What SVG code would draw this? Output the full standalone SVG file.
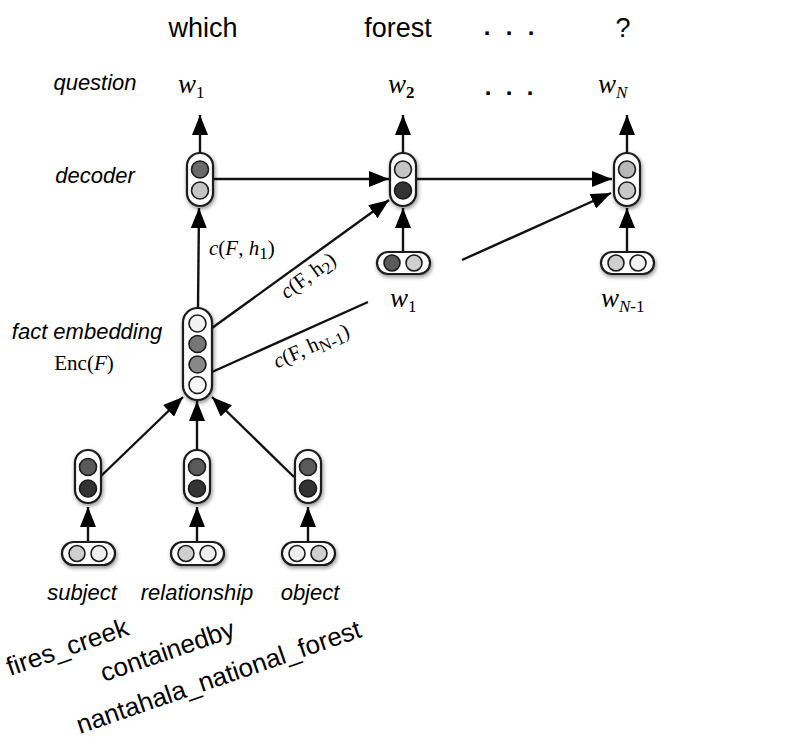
<svg xmlns="http://www.w3.org/2000/svg" width="800" height="753" viewBox="0 0 800 753">
<defs>
<style>
.lbl{font-family:"Liberation Sans",Arial,sans-serif;font-size:27px;fill:#000}
.it{font-family:"Liberation Sans",Arial,sans-serif;font-style:italic;font-size:22px;fill:#000}
.rot{font-family:"Liberation Sans",Arial,sans-serif;font-size:26px;fill:#000}
.m{font-family:"Liberation Serif","Times New Roman",serif;font-size:27px;fill:#000}
.ms{font-family:"Liberation Serif","Times New Roman",serif;font-size:21px;fill:#000}
.mi{font-style:italic}
.sub{font-size:17px;font-style:normal}
.subi{font-size:17px;font-style:italic}
.cap{fill:#fff;stroke:#1a1a1a;stroke-width:2.2}
.c{stroke:#1a1a1a;stroke-width:1.6}
.edge{stroke:#111;stroke-width:2.4;fill:none}
.dots{font-family:"Liberation Sans",Arial,sans-serif;font-weight:bold;font-size:24px;fill:#000}
</style>
<marker id="ah" markerUnits="userSpaceOnUse" markerWidth="20" markerHeight="16" refX="20" refY="8" orient="auto">
<path d="M0,0 L20,8 L0,16 z" fill="#000"/>
</marker>
<filter id="sh" x="-40%" y="-40%" width="180%" height="180%">
<feGaussianBlur in="SourceAlpha" stdDeviation="2"/>
<feOffset dx="1" dy="2" result="b"/>
<feComponentTransfer><feFuncA type="linear" slope="0.45"/></feComponentTransfer>
<feMerge><feMergeNode/><feMergeNode in="SourceGraphic"/></feMerge>
</filter>
</defs>
<rect width="800" height="753" fill="#fff"/>

<!-- top words -->
<g id="words">
<text class="lbl" x="203" y="37" text-anchor="middle">which</text>
<text class="lbl" x="398" y="37" text-anchor="middle">forest</text>
<text class="dots" x="487 509 531" y="35" text-anchor="middle">...</text>
<text class="lbl" x="623" y="37" text-anchor="middle">?</text>
</g>

<!-- row labels -->
<g id="rowlabels">
<text class="it" x="95" y="90" text-anchor="middle">question</text>
<text class="it" x="95" y="183" text-anchor="middle">decoder</text>
<text class="it" x="87" y="339" text-anchor="middle">fact embedding</text>
<text class="ms" x="84" y="370" text-anchor="middle" font-size="22">Enc(<tspan class="mi">F</tspan>)</text>
</g>

<!-- output words -->
<g id="outputs">
<text class="m mi" x="178" y="93">w<tspan class="sub" dy="5">1</tspan></text>
<text class="m mi" x="388" y="93">w<tspan class="sub" dy="5" font-weight="bold">2</tspan></text>
<text class="dots" x="488 509 530" y="95" text-anchor="middle">...</text>
<text class="m mi" x="598" y="93">w<tspan class="subi" dy="5">N</tspan></text>
</g>

<!-- connectors -->
<g id="connectors">
<line class="edge" x1="200" y1="153" x2="200" y2="115" marker-end="url(#ah)"/>
<line class="edge" x1="403" y1="153" x2="403" y2="115" marker-end="url(#ah)"/>
<line class="edge" x1="627" y1="153" x2="627" y2="115" marker-end="url(#ah)"/>
<line class="edge" x1="213" y1="179" x2="389" y2="179" marker-end="url(#ah)"/>
<line class="edge" x1="417" y1="179" x2="612" y2="179" marker-end="url(#ah)"/>
<line class="edge" x1="403" y1="252" x2="403" y2="208" marker-end="url(#ah)"/>
<line class="edge" x1="627" y1="252" x2="627" y2="208" marker-end="url(#ah)"/>
<line class="edge" x1="198" y1="308" x2="199" y2="208" marker-end="url(#ah)"/>
<line class="edge" x1="212" y1="328" x2="389" y2="200" marker-end="url(#ah)"/>
<path class="edge" d="M212,372 L368,302 M462,260 L611,193" marker-end="url(#ah)"/>
<line class="edge" x1="100" y1="477" x2="183" y2="397" marker-end="url(#ah)"/>
<line class="edge" x1="197" y1="450" x2="197" y2="401" marker-end="url(#ah)"/>
<line class="edge" x1="294" y1="477" x2="212" y2="397" marker-end="url(#ah)"/>
<line class="edge" x1="88" y1="542" x2="88" y2="507" marker-end="url(#ah)"/>
<line class="edge" x1="197" y1="542" x2="197" y2="507" marker-end="url(#ah)"/>
<line class="edge" x1="308" y1="542" x2="308" y2="507" marker-end="url(#ah)"/>
</g>

<!-- connector labels -->
<g id="edgelabels">
<text class="ms" x="209" y="255"><tspan class="mi">c</tspan>(<tspan class="mi">F</tspan>, <tspan class="mi">h</tspan><tspan class="sub" dy="4">1</tspan><tspan dy="-4">)</tspan></text>
<text class="ms" transform="translate(312,281) rotate(-36)" text-anchor="middle"><tspan class="mi">c</tspan>(F, h<tspan class="sub" dy="4">2</tspan><tspan dy="-4">)</tspan></text>
<text class="ms" transform="translate(314,352) rotate(-24)" text-anchor="middle"><tspan class="mi">c</tspan>(F, h<tspan class="sub" dy="4">N-1</tspan><tspan dy="-4">)</tspan></text>
</g>

<!-- decoder nodes -->
<g id="dec1">
<rect class="cap" x="187" y="153" width="26" height="53" rx="13" filter="url(#sh)"/>
<circle class="c" cx="200" cy="169.5" r="8.5" fill="#6a6a6a"/>
<circle class="c" cx="200" cy="190.5" r="8.5" fill="#c4c4c4"/>
</g>
<g id="dec2">
<rect class="cap" x="390" y="153" width="26" height="53" rx="13" filter="url(#sh)"/>
<circle class="c" cx="403" cy="169.5" r="8.5" fill="#c4c4c4"/>
<circle class="c" cx="403" cy="190.5" r="8.5" fill="#333"/>
</g>
<g id="dec3">
<rect class="cap" x="614" y="153" width="26" height="53" rx="13" filter="url(#sh)"/>
<circle class="c" cx="627" cy="169.5" r="8.5" fill="#b8b8b8"/>
<circle class="c" cx="627" cy="190.5" r="8.5" fill="#c8c8c8"/>
</g>

<!-- decoder inputs -->
<g id="in1">
<rect class="cap" x="377" y="252" width="53" height="22" rx="11" filter="url(#sh)"/>
<circle class="c" cx="392" cy="263" r="8" fill="#5a5a5a"/>
<circle class="c" cx="414" cy="263" r="8" fill="#cfcfcf"/>
<text class="m mi" x="390" y="307">w<tspan class="sub" dy="5">1</tspan></text>
</g>
<g id="inN">
<rect class="cap" x="601" y="252" width="53" height="22" rx="11" filter="url(#sh)"/>
<circle class="c" cx="616" cy="263" r="8" fill="#cfcfcf"/>
<circle class="c" cx="638" cy="263" r="8" fill="#f0f0f0"/>
<text class="m mi" x="601" y="307">w<tspan class="subi" dy="5">N</tspan><tspan class="sub">-1</tspan></text>
</g>

<!-- fact embedding -->
<g id="fact">
<rect class="cap" x="183" y="308" width="29" height="92" rx="14.5" filter="url(#sh)"/>
<circle class="c" cx="197.5" cy="323.5" r="8.5" fill="#f2f2f2"/>
<circle class="c" cx="197.5" cy="344" r="8.5" fill="#777"/>
<circle class="c" cx="197.5" cy="364.5" r="8.5" fill="#888"/>
<circle class="c" cx="197.5" cy="385" r="8.5" fill="#f6f6f6"/>
</g>

<!-- triple nodes -->
<g id="subj">
<rect class="cap" x="75" y="450" width="26" height="53" rx="13" filter="url(#sh)"/>
<circle class="c" cx="88" cy="467" r="8.5" fill="#5a5a5a"/>
<circle class="c" cx="88" cy="488.5" r="8.5" fill="#333"/>
</g>
<g id="rel">
<rect class="cap" x="184" y="450" width="26" height="53" rx="13" filter="url(#sh)"/>
<circle class="c" cx="197" cy="467" r="8.5" fill="#5a5a5a"/>
<circle class="c" cx="197" cy="488.5" r="8.5" fill="#333"/>
</g>
<g id="obj">
<rect class="cap" x="295" y="450" width="26" height="53" rx="13" filter="url(#sh)"/>
<circle class="c" cx="308" cy="467" r="8.5" fill="#5a5a5a"/>
<circle class="c" cx="308" cy="488.5" r="8.5" fill="#333"/>
</g>

<g id="subjin">
<rect class="cap" x="62" y="542" width="53" height="23" rx="11.5" filter="url(#sh)"/>
<circle class="c" cx="77" cy="553.5" r="8" fill="#cfcfcf"/>
<circle class="c" cx="99" cy="553.5" r="8" fill="#eee"/>
</g>
<g id="relin">
<rect class="cap" x="171" y="542" width="53" height="23" rx="11.5" filter="url(#sh)"/>
<circle class="c" cx="186" cy="553.5" r="8" fill="#cfcfcf"/>
<circle class="c" cx="208" cy="553.5" r="8" fill="#eee"/>
</g>
<g id="objin">
<rect class="cap" x="282" y="542" width="53" height="23" rx="11.5" filter="url(#sh)"/>
<circle class="c" cx="297" cy="553.5" r="8" fill="#eee"/>
<circle class="c" cx="319" cy="553.5" r="8" fill="#cfcfcf"/>
</g>

<g id="triplelabels">
<text class="it" x="82" y="600" text-anchor="middle">subject</text>
<text class="it" x="197" y="600" text-anchor="middle">relationship</text>
<text class="it" x="310" y="600" text-anchor="middle">object</text>
<text class="rot" transform="translate(10,676) rotate(-19)">fires_creek</text>
<text class="rot" transform="translate(104,682) rotate(-19)">containedby</text>
<text class="rot" transform="translate(80,734) rotate(-19)">nantahala_national_forest</text>
</g>
</svg>
